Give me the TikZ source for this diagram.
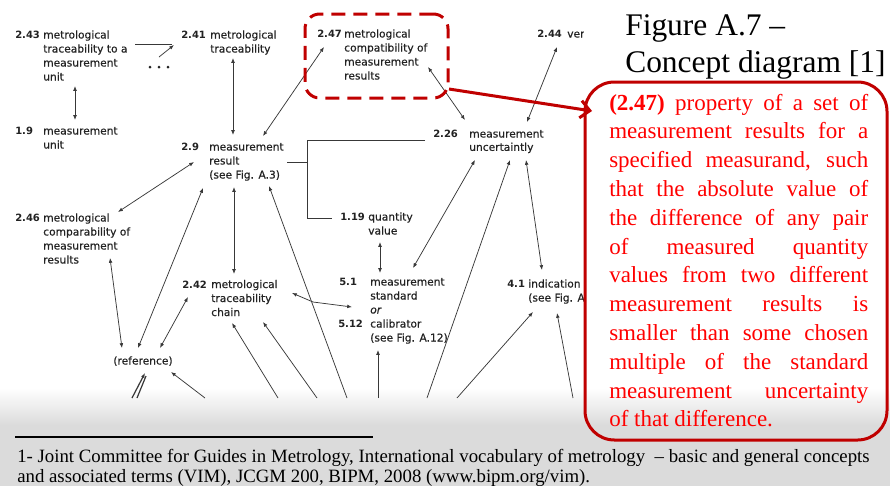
\documentclass[tikz,border=0pt]{standalone}
\usepackage{fontspec}
\setmainfont{Liberation Serif}
\newfontfamily\djv{DejaVu Sans}[FakeBold=0.5]
\newfontfamily\djvn{DejaVu Sans}
\usetikzlibrary{arrows.meta}
\definecolor{dred}{HTML}{C00000}
\definecolor{ink}{HTML}{222222}
\newcommand\Lst[2]{\vtop{\baselineskip=#1\lineskiplimit=-30pt\lineskip=0pt #2}}
\begin{document}
\begin{tikzpicture}[x=0.75pt,y=-0.75pt,
 lbl/.style={anchor=base west,inner sep=0pt,text=ink,font=\djv\fontsize{8}{10.5}\selectfont},
 num/.style={anchor=base west,inner sep=0pt,text=ink,font=\djvn\bfseries\fontsize{7.5}{10.5}\selectfont},
 conn/.style={draw=ink!90,line width=0.55pt},
 tip/.style={conn,-{Latex[length=3.6pt,width=2.8pt]}},
 both/.style={conn,{Latex[length=3.6pt,width=2.8pt]}-{Latex[length=3.6pt,width=2.8pt]}},
]
\useasboundingbox (0,0) rectangle (890,486);
\fill[white] (0,0) rectangle (890,486);
\shade[top color=white,bottom color=black!14] (0,388) rectangle (890,425);
\fill[black!14] (0,425) rectangle (890,486);

% ---- concept labels
\node[num] (k243) at (15,38.5) {2.43};
\node[lbl] (t243) at (43,38.5) {\Lst{10.5pt}{\hbox{metrological}\hbox{traceability to a}\hbox{measurement}\hbox{unit}}};
\node[num] (k241) at (181,38.5) {2.41};
\node[lbl] (t241) at (210,38.5) {\Lst{10.5pt}{\hbox{metrological}\hbox{traceability}}};
\node[num] (k247) at (317,37.5) {2.47};
\node[lbl] (t247) at (344,37.5) {\Lst{10.5pt}{\hbox{metrological}\hbox{compatibility of}\hbox{measurement}\hbox{results}}};
\node[num] (k244) at (537,37.5) {2.44};
\node[lbl] (t244) at (567,37.5) {verification};
\node[num] (k19) at (15,134.5) {1.9};
\node[lbl] (t19) at (43,134.5) {\Lst{10.5pt}{\hbox{measurement}\hbox{unit}}};
\node[num] (k29) at (181,150.5) {2.9};
\node[lbl] (t29) at (209,150.5) {\Lst{10.5pt}{\hbox{measurement}\hbox{result}\hbox{(see Fig. A.3)}}};
\node[num] (k226) at (433,137.5) {2.26};
\node[lbl] (t226) at (469,137.5) {\Lst{10pt}{\hbox{measurement}\hbox{uncertaintly}}};
\node[num] (k246) at (15,221.5) {2.46};
\node[lbl] (t246) at (43,221.5) {\Lst{10.5pt}{\hbox{metrological}\hbox{comparability of}\hbox{measurement}\hbox{results}}};
\node[num] (k119) at (340,220.5) {1.19};
\node[lbl] (t119) at (368,220.5) {\Lst{10.5pt}{\hbox{quantity}\hbox{value}}};
\node[num] (k242) at (182,288) {2.42};
\node[lbl] (t242) at (211,288) {\Lst{10.5pt}{\hbox{metrological}\hbox{traceability}\hbox{chain}}};
\node[num] (k51) at (339,285.5) {5.1};
\node[lbl] (t51) at (370,285.5) {\Lst{10.5pt}{\hbox{measurement}\hbox{standard}\hbox{\itshape or}\hbox{calibrator}\hbox{(see Fig. A.12)}}};
\node[num] (k512) at (338,327.5) {5.12};
\node[num] (k41) at (507,287.5) {4.1};
\node[lbl] (t41) at (528,287.5) {\Lst{10.5pt}{\hbox{indication}\hbox{(see Fig. A}}};
\node[lbl,anchor=base] (ref) at (143,364.5) {(reference)};
\foreach \xx in {150,159,168} \fill[ink] (\xx,67) circle (1.5);

% ---- connectors
\coordinate (p1) at (135,44); \coordinate (p2) at (172,44);
\coordinate (p3) at (159,57); \coordinate (p4) at (174,45);
\draw[conn] (p1) -- (p2);
\draw[tip] (p3) -- (p4);
\draw[both] (75,86) -- (75,120);
\draw[both] (233,58) -- (233,135);
\draw[both] (324,47) -- (263,136);
\draw[both] (428,67) -- (465,120);
\draw[both] (557,47) -- (527,122);
\draw[conn] (287,162) -- (307,162);
\draw[conn] (425,140) -- (307,140) -- (307,218) -- (332,218);
\draw[both] (380,242) -- (380,273);
\draw[both] (475,160) -- (413,268);
\draw[tip] (427,398) -- (510,160);
\draw[both] (526,160) -- (542,270);
\draw[tip] (457,398) -- (533,312);
\draw[tip] (573,398) -- (557,313);
\draw[tip] (378,398) -- (378,350);
\draw[both] (292,293) -- (313,302) -- (352,307);
\draw[both] (118,212) -- (194,162);
\draw[both] (203,188) -- (138,348);
\draw[both] (234,187) -- (234,274);
\draw[tip] (347,398) -- (269,186);
\draw[tip] (317,398) -- (263,322);
\draw[tip] (278,398) -- (232,323);
\draw[tip] (205,398) -- (171,372);
\draw[tip,line width=0.9pt] (132,398) -- (145,373);
\draw[conn,line width=0.9pt] (137,398) -- (146,376);
\draw[both] (110,258) -- (122,348);
\draw[both] (188,297) -- (160,348);

% ---- cover of the slide text area
\fill[white] (584,0) rectangle (890,388);

% ---- title
\node[anchor=base west,inner sep=0pt,font=\fontsize{23.6}{27.75}\selectfont] (title) at (625,35)
  {\Lst{27.75pt}{\hbox{Figure A.7 –}\hbox{Concept diagram [1]}}};

% ---- highlight and definition
\node[draw=dred,line width=2.25pt,dash pattern=on 10.5pt off 6pt,rounded corners=11pt,
      minimum width=107.25pt,minimum height=63pt,inner sep=0pt] (hl) at (376.5,56) {};
\node[draw=dred,line width=2.25pt,rounded corners=22pt,
      minimum width=226.5pt,minimum height=268.5pt,inner sep=0pt] (defbox) at (736,261) {};
\coordinate (ra) at (449,89); \coordinate (rb) at (592,111);
\draw[dred,line width=2.25pt,-{Straight Barb[length=7pt,width=13pt]}] (ra) -- (rb);
\node[anchor=base west,inner sep=0pt,text=red,font=\fontsize{17.25}{21.6}\selectfont] (deftext) at (609,110)
 {\Lst{21.6pt}{%
 \hbox to 194.25pt{\textbf{(2.47)} property of a set of}
 \hbox to 194.25pt{measurement results for a}
 \hbox to 194.25pt{specified measurand, such}
 \hbox to 194.25pt{that the absolute value of}
 \hbox to 194.25pt{the difference of any pair}
 \hbox to 194.25pt{of measured quantity}
 \hbox to 194.25pt{values from two different}
 \hbox to 194.25pt{measurement results is}
 \hbox to 194.25pt{smaller than some chosen}
 \hbox to 194.25pt{multiple of the standard}
 \hbox to 194.25pt{measurement uncertainty}
 \hbox{of that difference.}}};

% ---- footer
\coordinate (f1) at (15,437); \coordinate (f2) at (373,437);
\draw[black,line width=1.2pt] (f1) -- (f2);
\node[anchor=base west,inner sep=0pt,font=\fontsize{14.1}{15}\selectfont] (foot) at (17,462)
 {\Lst{15pt}{\hbox{1- Joint Committee for Guides in Metrology, International vocabulary of metrology \ – basic and general concepts}\hbox{and associated terms (VIM), JCGM 200, BIPM, 2008 (www.bipm.org/vim).}}};
\end{tikzpicture}
\end{document}
